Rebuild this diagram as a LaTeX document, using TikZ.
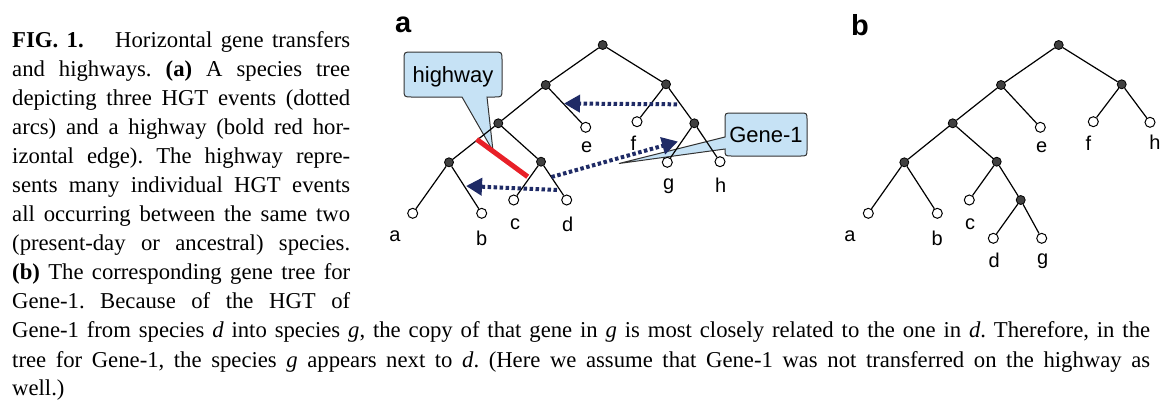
\documentclass[tikz,border=0pt]{standalone}
\usepackage{fontspec}
\setmainfont{Liberation Serif}
\newfontfamily\arialf{Liberation Sans}
\usetikzlibrary{arrows.meta}
\definecolor{navy}{RGB}{31,43,102}
\definecolor{hwred}{RGB}{232,32,40}
\definecolor{callblue}{RGB}{198,226,245}
\frenchspacing
\begin{document}
\begin{tikzpicture}[x=1pt,y=-1pt,
  inner/.style={circle,fill=black!75,draw=black,line width=0.8pt,minimum size=9pt,inner sep=0pt},
  leaf/.style={circle,fill=white,draw=black,line width=1pt,minimum size=10pt,inner sep=0pt},
  edge/.style={line width=1.2pt},
  lbl/.style={font=\arialf\fontsize{20}{22}\selectfont,inner sep=0pt},
  panel/.style={font=\arialf\bfseries\fontsize{29}{30}\selectfont,inner sep=0pt},
  hgt/.style={navy,line width=4pt,dash pattern=on 3.5pt off 2.5pt,-{Triangle[length=16pt,width=17pt]}},
  callout/.style={fill=callblue,draw=black!80,line width=1pt},
  ctext/.style={font=\arialf\fontsize{22}{24}\selectfont,inner sep=0pt},
  capline/.style={anchor=base west,inner sep=0pt,font=\fontsize{22.7}{29}\selectfont},
  hwy/.style={hwred,line width=5pt}
]
\useasboundingbox (0,0) rectangle (1162,400);

% ---------------- caption ----------------
\node[capline] (cap1) at (12,47) {\makebox[338pt][s]{\textbf{FIG. 1.}\hspace{0.9em plus 0.5em}Horizontal gene transfers}};
\node[capline] (cap2) at (12,76) {\makebox[338pt][s]{and highways. \textbf{(a)} A species tree}};
\node[capline] (cap3) at (12,105) {\makebox[338pt][s]{depicting three HGT events (dotted}};
\node[capline] (cap4) at (12,134) {\makebox[338pt][s]{arcs) and a highway (bold red hor-}};
\node[capline] (cap5) at (12,163) {\makebox[338pt][s]{izontal edge). The highway repre-}};
\node[capline] (cap6) at (12,192) {\makebox[338pt][s]{sents many individual HGT events}};
\node[capline] (cap7) at (12,221) {\makebox[338pt][s]{all occurring between the same two}};
\node[capline] (cap8) at (12,250) {\makebox[338pt][s]{(present-day or ancestral) species.}};
\node[capline] (cap9) at (12,279) {\makebox[338pt][s]{\textbf{(b)} The corresponding gene tree for}};
\node[capline] (cap10) at (12,308) {\makebox[338pt][s]{Gene-1. Because of the HGT of}};
\node[capline] (cap11) at (12,337.5) {\makebox[1138pt][s]{Gene-1 from species \textit{d} into species \textit{g}, the copy of that gene in \textit{g} is most closely related to the one in \textit{d}. Therefore, in the}};
\node[capline] (cap12) at (12,367) {\makebox[1138pt][s]{tree for Gene-1, the species \textit{g} appears next to \textit{d}. (Here we assume that Gene-1 was not transferred on the highway as}};
\node[capline] (cap13) at (12,395.5) {well.)};

% ---------------- panel labels ----------------
\node[panel] (pa) at (403.3,25) {a};
\node[panel] (pb) at (860,25) {b};

% ---------------- callouts (behind tree) ----------------
\draw[callout] (412,52) -- (494,52) .. controls (502,52) .. (502,60) -- (502,89) .. controls (502,97) .. (494,97)
  -- (487,97) -- (493,151) -- (462,97) -- (412,97) .. controls (404,97) .. (404,89) -- (404,60) .. controls (404,52) .. (412,52) -- cycle;
\node[ctext] (hwtext) at (453,77) {highway};
\draw[callout] (732,113) -- (800,113) .. controls (807,113) .. (807,120) -- (807,149) .. controls (807,156) .. (800,156)
  -- (732,156) .. controls (725,156) .. (725,149) -- (619,163.5) -- (725,137) -- (725,120) .. controls (725,113) .. (732,113) -- cycle;
\node[ctext] (genetext) at (766,134.5) {Gene-1};

% ---------------- tree a ----------------
\node[inner] (A-root) at (602.7,45) {};
\node[inner] (A-L1) at (545.7,85) {};
\node[inner] (A-R1) at (666,84.3) {};
\node[inner] (A-L2) at (498.3,123.3) {};
\node[inner] (A-R2) at (694.3,123.3) {};
\node[inner] (A-L3) at (449,162.3) {};
\node[inner] (A-M3) at (541,161.7) {};
\node[leaf] (A-a) at (412.7,213.3) {};
\node[leaf] (A-b) at (481.7,213.3) {};
\node[leaf] (A-c) at (513.7,200) {};
\node[leaf] (A-d) at (566.7,200) {};
\node[leaf] (A-e) at (585.7,127.3) {};
\node[leaf] (A-f) at (637,121.7) {};
\node[leaf] (A-g) at (667.3,162.3) {};
\node[leaf] (A-h) at (720,161.7) {};
\draw[edge] (A-root) -- (A-L1);
\draw[edge] (A-root) -- (A-R1);
\draw[edge] (A-L1) -- (A-L2);
\draw[edge] (A-L1) -- (A-e);
\draw[edge] (A-R1) -- (A-f);
\draw[edge] (A-R1) -- (A-R2);
\draw[edge] (A-R2) -- (A-g);
\draw[edge] (A-R2) -- (A-h);
\draw[edge] (A-L2) -- (A-L3);
\draw[edge] (A-L2) -- (A-M3);
\draw[edge] (A-L3) -- (A-a);
\draw[edge] (A-L3) -- (A-b);
\draw[edge] (A-M3) -- (A-c);
\draw[edge] (A-M3) -- (A-d);
\node[lbl] (A-la) at (395,236.5) {a};
\node[lbl] (A-lb) at (481.7,238) {b};
\node[lbl] (A-lc) at (515,224) {c};
\node[lbl] (A-ld) at (567.7,224) {d};
\node[lbl] (A-le) at (586.7,147.7) {e};
\node[lbl] (A-lf) at (633.3,143.3) {f};
\node[lbl] (A-lg) at (668.7,186) {g};
\node[lbl] (A-lh) at (720.7,185) {h};

% highway
\coordinate (hw1) at (476.7,139.3);
\coordinate (hw2) at (527.7,176.7);
\draw[hwy] (hw1) -- (hw2);

% HGT arrows
\coordinate (t1s) at (677,104.3);
\coordinate (t1e) at (564,103.5);
\coordinate (t2s) at (557,190);
\coordinate (t2e) at (466,186);
\coordinate (t3s) at (551.5,177);
\coordinate (t3e) at (678,141.5);
\draw[hgt] (t1s) -- (t1e);
\draw[hgt] (t2s) -- (t2e);
\draw[hgt] (t3s) -- (t3e);

% ---------------- tree b ----------------
\node[inner] (B-root) at (1058.7,45) {};
\node[inner] (B-L1) at (1001,85) {};
\node[inner] (B-R1) at (1121.7,84.3) {};
\node[inner] (B-L2) at (952.7,123.3) {};
\node[inner] (B-L3) at (904.3,162.3) {};
\node[inner] (B-M3) at (996.7,161.7) {};
\node[inner] (B-N4) at (1020.7,200) {};
\node[leaf] (B-a) at (868.3,213.3) {};
\node[leaf] (B-b) at (937.3,213.3) {};
\node[leaf] (B-c) at (969.3,200) {};
\node[leaf] (B-d) at (993.3,238.3) {};
\node[leaf] (B-g) at (1041.7,238.3) {};
\node[leaf] (B-e) at (1040.3,127.3) {};
\node[leaf] (B-f) at (1093.3,121.7) {};
\node[leaf] (B-h) at (1150,122.3) {};
\draw[edge] (B-root) -- (B-L1);
\draw[edge] (B-root) -- (B-R1);
\draw[edge] (B-L1) -- (B-L2);
\draw[edge] (B-L1) -- (B-e);
\draw[edge] (B-R1) -- (B-f);
\draw[edge] (B-R1) -- (B-h);
\draw[edge] (B-L2) -- (B-L3);
\draw[edge] (B-L2) -- (B-M3);
\draw[edge] (B-L3) -- (B-a);
\draw[edge] (B-L3) -- (B-b);
\draw[edge] (B-M3) -- (B-c);
\draw[edge] (B-M3) -- (B-N4);
\draw[edge] (B-N4) -- (B-d);
\draw[edge] (B-N4) -- (B-g);
\node[lbl] (B-la) at (850,236.5) {a};
\node[lbl] (B-lb) at (937.3,238) {b};
\node[lbl] (B-lc) at (970,224) {c};
\node[lbl] (B-ld) at (994.3,260) {d};
\node[lbl] (B-lg) at (1042.7,261.7) {g};
\node[lbl] (B-le) at (1041.7,147.7) {e};
\node[lbl] (B-lf) at (1088.3,143.3) {f};
\node[lbl] (B-lh) at (1155,142.7) {h};
\end{tikzpicture}
\end{document}
